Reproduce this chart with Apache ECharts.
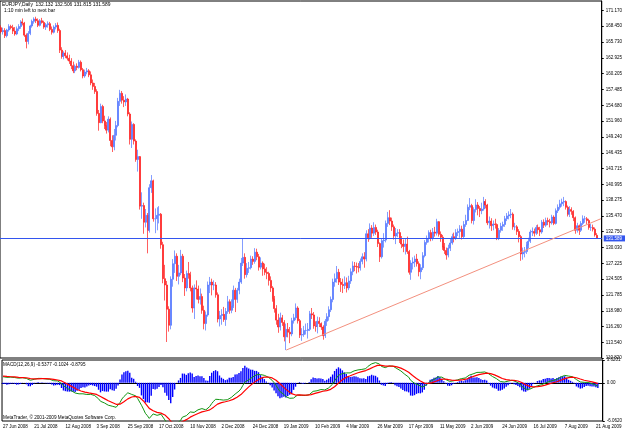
<!DOCTYPE html>
<html>
<head>
<meta charset="utf-8">
<title>EURJPY, Daily</title>
<script src="https://cdn.jsdelivr.net/npm/echarts@6/dist/echarts.min.js"></script>
<style>
  html, body { margin: 0; padding: 0; background: #fff; }
  #chart { width: 625px; height: 431px; }
</style>
</head>
<body>
<div id="chart"></div>
<script>
// daily bars, 27 Jun 2008 .. 1 Sep 2009
const opens = [
  168.2,167.5,167.7,166.8,167.8,168.4,168.2,167.6,167.1,168.0,168.4,169.2,169.0,166.9,165.8,167.2,168.5,169.3,169.7,169.4,
  168.6,169.4,169.1,168.3,168.7,168.9,167.9,167.4,168.3,168.6,167.7,164.3,163.2,163.8,163.3,162.9,162.4,161.6,160.7,161.5,
  161.3,162.2,160.9,159.8,160.5,160.7,
  160.0,158.6,158.0,157.1,153.3,151.7,154.5,152.0,151.2,150.4,152.3,148.6,147.5,149.5,151.2,155.4,156.8,155.6,155.3,155.8,
  153.2,148.8,151.4,148.5,145.3,145.8,137.2,137.3,134.4,135.6,133.0,140.4,141.6,135.0,135.0,135.6,135.8,130.5,124.6,123.5,
  119.3,116.5,124.5,127.2,128.5,
  125.0,125.6,128.5,124.7,123.0,125.5,125.3,123.0,119.5,123.0,122.8,121.0,121.5,119.1,116.8,118.3,123.5,124.0,123.5,123.5,
  121.8,117.6,118.2,118.4,117.5,118.9,120.6,119.1,119.8,122.6,121.0,122.6,124.0,127.3,128.3,125.3,126.4,126.5,128.0,127.6,
  129.2,128.4,126.6,127.3,126.3,125.7,125.5,124.3,123.0,121.1,119.4,117.4,116.2,117.8,117.0,114.5,115.8,115.3,115.0,117.3,
  117.8,119.5,117.3,
  114.8,114.9,115.6,115.6,115.8,118.5,118.3,116.4,116.3,117.2,116.8,116.2,114.7,117.2,118.0,119.2,121.0,124.0,124.6,125.7,
  124.0,123.6,123.4,123.9,123.0,124.2,125.8,126.8,126.7,126.6,126.5,127.6,128.4,128.0,132.4,131.7,133.4,132.5,133.5,132.7,
  130.7,128.4,131.2,131.3,134.2,135.2,134.6,133.6,132.0,132.5,132.6,131.5,130.6,130.2,130.6,129.3,125.7,127.3,127.5,128.0,
  127.2,125.8,126.5,128.6,130.9,
  131.6,132.6,131.6,132.7,132.5,134.5,132.3,131.8,130.1,129.5,128.7,129.9,130.8,131.9,131.6,132.6,132.8,133.2,131.9,134.0,
  134.7,137.0,137.3,134.7,136.6,137.4,136.8,136.4,136.7,138.0,137.4,134.3,134.6,133.8,134.1,134.0,131.7,133.0,133.7,134.0,
  135.0,135.5,135.7,135.8,133.6,133.6,132.8,131.9,128.9,129.2,129.3,130.5,131.1,132.7,132.8,132.5,133.5,133.1,132.7,134.4,
  133.9,134.7,134.5,134.3,135.3,134.2,136.4,137.0,137.6,137.9,138.0,137.0,135.8,136.6,136.3,135.2,133.0,133.8,133.0,134.2,
  135.0,135.0,134.7,133.5,133.5,133.2,132.132
];
const highs = [
  168.6,168.2,168.1,168.0,168.8,168.7,168.7,168.3,168.4,168.8,169.5,169.8,169.2,167.2,167.6,168.7,169.6,170.0,170.1,169.8,
  169.7,169.9,169.4,169.0,169.3,169.2,168.4,168.6,169.0,169.1,168.0,164.8,164.1,164.3,163.9,163.5,162.9,162.3,161.8,162.0,
  162.6,162.5,161.2,160.9,161.2,161.0,
  160.6,159.2,158.6,157.5,153.9,155.0,154.8,152.9,151.8,152.8,152.6,149.5,150.6,152.0,156.0,157.4,157.2,156.3,156.6,156.0,
  153.5,151.9,151.6,148.8,147.0,145.9,139.6,137.8,136.7,136.0,141.0,142.6,141.8,136.8,137.0,137.2,136.0,131.0,127.0,124.2,
  119.8,125.0,128.0,129.5,129.0,
  127.0,129.6,128.9,125.4,126.0,127.5,125.8,123.4,123.6,124.3,123.4,122.9,122.0,119.9,118.9,124.1,124.9,124.6,124.3,124.0,
  122.2,119.0,119.3,119.7,119.5,121.6,121.0,121.0,123.4,123.0,123.0,124.6,128.2,131.5,129.0,127.3,127.5,128.6,128.5,129.9,
  129.8,128.9,128.3,127.6,127.2,126.6,125.8,125.0,123.3,121.6,120.0,118.5,118.7,118.3,117.4,116.8,116.9,116.2,117.8,118.5,
  120.3,119.8,117.6,
  116.0,116.4,116.8,116.9,119.0,119.5,118.8,117.2,118.0,117.9,117.0,116.5,117.6,118.6,119.8,121.5,124.6,125.5,126.8,126.3,
  124.7,124.6,125.0,124.8,125.1,126.4,127.6,127.5,127.4,127.3,128.1,129.0,129.2,133.0,133.2,134.2,133.9,134.4,134.0,133.1,
  130.9,131.6,132.5,134.7,136.2,136.5,135.2,134.0,133.4,133.2,133.2,132.0,131.4,131.5,131.9,129.6,127.8,128.3,128.6,128.9,
  127.6,127.1,129.2,131.3,132.1,
  133.0,133.1,133.4,133.6,135.0,134.6,132.8,132.2,130.8,130.0,130.5,131.6,132.4,132.6,133.2,133.3,133.9,133.8,134.6,135.7,
  137.5,138.6,137.6,137.0,138.4,137.9,137.2,137.8,138.8,138.4,137.6,135.4,135.1,134.7,135.0,134.2,133.4,134.3,134.5,135.5,
  136.0,136.3,136.7,136.1,134.3,133.9,133.2,132.2,130.0,130.1,131.0,131.7,133.1,133.5,133.3,133.9,134.0,133.6,134.8,134.9,
  135.2,135.2,135.0,135.7,135.6,136.8,137.5,138.3,138.5,138.8,138.2,137.3,137.2,137.0,136.5,135.4,134.3,134.0,134.6,135.6,
  135.5,135.3,135.0,134.1,134.0,133.5,132.506
];
const lows = [
  167.2,167.0,166.4,166.5,167.5,167.9,167.1,166.8,166.9,167.6,168.0,168.6,166.6,164.6,165.3,166.9,168.2,168.9,169.0,168.3,
  168.4,168.9,168.0,167.8,168.2,167.6,167.0,167.2,167.9,167.3,163.8,162.8,162.7,162.9,162.5,161.9,161.0,160.3,160.3,160.8,
  161.1,160.6,159.4,159.5,160.1,159.6,
  158.2,157.4,156.7,152.9,150.3,151.6,151.6,150.6,149.8,150.0,147.6,146.6,146.9,148.6,150.9,154.6,155.0,154.4,154.6,152.8,
  147.9,147.3,147.9,144.9,143.2,136.6,135.0,132.4,133.5,129.0,132.6,139.5,134.5,132.5,133.0,134.2,129.8,123.8,120.8,113.6,
  115.4,115.8,123.2,125.6,124.2,
  123.6,125.2,124.0,121.6,122.4,124.6,122.4,118.7,117.6,121.0,120.3,120.1,118.5,115.8,115.6,118.0,122.1,121.7,122.6,121.3,
  117.0,116.3,116.6,117.1,116.4,118.5,118.5,118.6,119.5,118.8,120.4,121.9,123.7,126.8,124.6,124.8,125.6,126.2,127.0,127.2,
  127.8,126.0,126.2,125.1,125.2,124.5,123.4,122.3,120.6,118.7,116.6,115.2,115.6,116.4,113.7,112.2,114.4,113.4,114.6,116.8,
  117.4,116.8,114.3,
  113.8,114.5,114.9,114.2,115.5,117.6,115.9,115.4,115.1,116.2,115.7,114.0,114.3,116.4,117.3,118.8,120.5,123.2,123.9,123.5,
  122.3,122.1,122.8,122.2,122.6,123.7,125.2,125.9,125.5,125.7,126.0,127.1,126.5,127.6,131.0,131.4,131.7,132.0,132.2,130.1,
  127.5,128.1,130.0,130.9,133.6,133.9,132.9,131.4,130.6,131.8,130.8,129.9,129.2,128.8,128.9,125.3,124.4,126.2,126.6,126.7,
  125.0,124.5,126.1,128.3,130.5,
  130.9,131.1,131.2,131.9,132.1,131.9,131.0,129.6,128.9,127.9,128.3,129.4,130.5,130.9,131.3,132.0,131.7,131.4,131.6,133.6,
  134.6,136.5,134.2,134.0,136.1,135.6,135.3,135.8,136.4,136.8,133.9,133.3,132.9,133.0,133.3,131.3,131.3,132.6,132.9,133.6,
  134.6,134.9,135.1,133.1,133.0,132.2,130.9,127.7,127.9,128.3,128.9,129.9,130.8,132.0,131.9,132.2,132.4,132.0,132.4,133.4,
  133.6,133.9,133.5,134.0,133.9,134.0,136.0,136.6,137.1,137.2,136.6,135.4,135.3,135.7,134.6,132.4,132.6,132.2,132.7,133.9,
  134.3,134.1,133.1,132.9,132.8,131.9,131.52
];
const closes = [
  167.5,167.7,166.8,167.8,168.4,168.2,167.6,167.1,168.0,168.4,169.2,169.0,166.9,165.8,167.2,168.5,169.3,169.7,169.4,168.6,
  169.4,169.1,168.3,168.7,168.9,167.9,167.4,168.3,168.6,167.7,164.3,163.2,163.8,163.3,162.9,162.4,161.6,160.7,161.5,161.3,
  162.2,160.9,159.8,160.5,160.7,160.0,
  158.6,158.0,157.1,153.3,151.7,154.5,152.0,151.2,150.4,152.3,148.6,147.5,149.5,151.2,155.4,156.8,155.6,155.3,155.8,153.2,
  148.8,151.4,148.5,145.3,145.8,137.2,137.3,134.4,135.6,133.0,140.4,141.6,135.0,135.0,135.6,135.8,130.5,124.6,123.5,119.3,
  116.5,124.5,127.2,128.5,125.0,
  125.6,128.5,124.7,123.0,125.5,125.3,123.0,119.5,123.0,122.8,121.0,121.5,119.1,116.8,118.3,123.5,124.0,123.5,123.5,121.8,
  117.6,118.2,118.4,117.5,118.9,120.6,119.1,119.8,122.6,121.0,122.6,124.0,127.3,128.3,125.3,126.4,126.5,128.0,127.6,129.2,
  128.4,126.6,127.3,126.3,125.7,125.5,124.3,123.0,121.1,119.4,117.4,116.2,117.8,117.0,114.5,115.8,115.3,115.0,117.3,117.8,
  119.5,117.3,114.8,
  114.9,115.6,115.6,115.8,118.5,118.3,116.4,116.3,117.2,116.8,116.2,114.7,117.2,118.0,119.2,121.0,124.0,124.6,125.7,124.0,
  123.6,123.4,123.9,123.0,124.2,125.8,126.8,126.7,126.6,126.5,127.6,128.4,128.0,132.4,131.7,133.4,132.5,133.5,132.7,130.7,
  128.4,131.2,131.3,134.2,135.2,134.6,133.6,132.0,132.5,132.6,131.5,130.6,130.2,130.6,129.3,125.7,127.3,127.5,128.0,127.2,
  125.8,126.5,128.6,130.9,131.6,
  132.6,131.6,132.7,132.5,134.5,132.3,131.8,130.1,129.5,128.7,129.9,130.8,131.9,131.6,132.6,132.8,133.2,131.9,134.0,134.7,
  137.0,137.3,134.7,136.6,137.4,136.8,136.4,136.7,138.0,137.4,134.3,134.6,133.8,134.1,134.0,131.7,133.0,133.7,134.0,135.0,
  135.5,135.7,135.8,133.6,133.6,132.8,131.9,128.9,129.2,129.3,130.5,131.1,132.7,132.8,132.5,133.5,133.1,132.7,134.4,133.9,
  134.7,134.5,134.3,135.3,134.2,136.4,137.0,137.6,137.9,138.0,137.0,135.8,136.6,136.3,135.2,133.0,133.8,133.0,134.2,135.0,
  135.0,134.7,133.5,133.5,133.2,132.2,131.589
];

// time scale labels, one every 16 bars
const tickLabels = [
  '27 Jun 2008', '21 Jul 2008', '12 Aug 2008', '3 Sep 2008', '25 Sep 2008', '17 Oct 2008',
  '10 Nov 2008', '2 Dec 2008', '24 Dec 2008', '19 Jan 2009', '10 Feb 2009', '4 Mar 2009',
  '26 Mar 2009', '17 Apr 2009', '11 May 2009', '2 Jun 2009', '24 Jun 2009', '16 Jul 2009',
  '7 Aug 2009', '21 Aug 2009'
];
const priceTicks = [
  171.170, 168.450, 165.730, 162.925, 160.205, 157.485, 154.680, 151.960, 149.240, 146.435,
  143.715, 140.995, 138.275, 135.470, 132.750, 130.030, 127.225, 124.505, 121.785, 118.980,
  116.260, 113.540, 110.820
];
const macdTicks = [3.6201, 0, -6.0620];

const bidPrice = 131.589;
const trendLine = [[146, 112.2], [307, 135.0]];
// EMA state just before the first bar (MACD is about +1 at the left edge)
const macdSeed = { fast: 166.9, slow: 165.9, signal: 1.1 };

const headerText = 'EURJPY,Daily  132.132 132.506 131.815 131.589';
const timerText = '1:10 min left to next bar';
const macdText = 'MACD(12,26,9) -0.5377 -0.1024 -0.8795';
const copyText = 'MetaTrader, \u00a9 2001-2009 MetaQuotes Software Corp.';

const FONT = "'Liberation Sans', Arial, sans-serif";
const AXIS_FS = 4.5;
const UP = '#4f73ff';
const DOWN = '#ff1a1a';

function ema(values, period, seed) {
  const k = 2 / (period + 1);
  let prev = seed;
  return values.map(v => (prev = prev + k * (v - prev)));
}

const emaFast = ema(closes, 12, macdSeed.fast);
const emaSlow = ema(closes, 26, macdSeed.slow);
const macdMain = emaFast.map((v, i) => +(v - emaSlow[i]).toFixed(4));
const macdSignal = ema(macdMain, 9, macdSeed.signal).map(v => +v.toFixed(4));
const macdHist = macdMain.map((v, i) => +(2 * (v - macdSignal[i])).toFixed(4));

// two empty slots on the right (chart shift)
const slots = [];
for (let i = 0; i < closes.length + 2; i++) slots.push(i);
const candles = closes.map((c, i) => [opens[i], c, lows[i], highs[i]]);

const showTick = idx => idx % 16 === 0 && idx / 16 < tickLabels.length;

const chart = echarts.init(document.getElementById('chart'));
const option = {
  animation: false,
  backgroundColor: '#fff',
  textStyle: { fontFamily: FONT, fontSize: AXIS_FS, color: '#000' },
  grid: [
    { left: 0, right: 19, top: 1, height: 357, show: true, borderColor: '#000', borderWidth: 1 },
    { left: 0, right: 19, top: 360, height: 61, show: true, borderColor: '#000', borderWidth: 1 }
  ],
  xAxis: [
    {
      type: 'category',
      gridIndex: 0,
      data: slots,
      axisLine: { show: false },
      axisTick: { show: false },
      axisLabel: { show: false },
      splitLine: { show: false }
    },
    {
      type: 'category',
      gridIndex: 1,
      data: slots,
      axisLine: { lineStyle: { color: '#000', width: 1 } },
      axisTick: { interval: showTick, alignWithLabel: true, length: 2, lineStyle: { color: '#000' } },
      axisLabel: {
        interval: showTick,
        formatter: (v, idx) => tickLabels[idx / 16] || '',
        align: 'left',
        margin: 3,
        fontFamily: FONT,
        fontSize: AXIS_FS,
        color: '#000'
      },
      splitLine: { show: false }
    }
  ],
  yAxis: [
    {
      type: 'value',
      gridIndex: 0,
      position: 'right',
      min: 110.82,
      max: 172.83,
      splitLine: { show: false },
      axisLine: { show: true, lineStyle: { color: '#000' } },
      axisTick: { show: true, length: 2, customValues: priceTicks, lineStyle: { color: '#000' } },
      axisLabel: {
        customValues: priceTicks,
        formatter: v => v.toFixed(3),
        margin: 4,
        padding: [0, 0, 4, 0],
        fontFamily: FONT,
        fontSize: AXIS_FS,
        color: '#000'
      }
    },
    {
      type: 'value',
      gridIndex: 1,
      position: 'right',
      min: macdTicks[2],
      max: macdTicks[0],
      splitLine: { show: false },
      axisLine: { show: true, lineStyle: { color: '#000' } },
      axisTick: { show: true, length: 2, customValues: macdTicks, lineStyle: { color: '#000' } },
      axisLabel: {
        customValues: macdTicks,
        formatter: v => (v === 0 ? '0.00' : v.toFixed(4)),
        margin: 4,
        fontFamily: FONT,
        fontSize: AXIS_FS,
        color: '#000'
      }
    }
  ],
  graphic: [
    { type: 'text', left: 2, top: 2, style: { text: headerText, fontFamily: FONT, fontSize: 4.9, fill: '#000' } },
    { type: 'text', left: 4, top: 8, style: { text: timerText, fontFamily: FONT, fontSize: 4.9, fill: '#000' } },
    { type: 'text', left: 3, top: 362, style: { text: macdText, fontFamily: FONT, fontSize: 4.6, fill: '#000' } },
    { type: 'text', left: 3, top: 415, style: { text: copyText, fontFamily: FONT, fontSize: 4.7, fill: '#000' } }
  ],
  series: [
    {
      name: 'EURJPY',
      type: 'candlestick',
      xAxisIndex: 0,
      yAxisIndex: 0,
      data: candles,
      barWidth: 1.5,
      itemStyle: { color: UP, color0: DOWN, borderColor: UP, borderColor0: DOWN, borderWidth: 0.7 },
      markLine: {
        silent: true,
        symbol: ['none', 'none'],
        animation: false,
        data: [
          {
            yAxis: bidPrice,
            lineStyle: { color: '#3355ee', width: 1, type: 'solid' },
            label: {
              show: true,
              position: 'end',
              distance: 2,
              formatter: bidPrice.toFixed(3),
              backgroundColor: '#3355ee',
              color: '#fff',
              padding: [1, 3, 0, 2],
              fontFamily: FONT,
              fontSize: AXIS_FS
            }
          },
          [
            { coord: trendLine[0], lineStyle: { color: '#f3907e', width: 1, type: 'solid' }, label: { show: false } },
            { coord: trendLine[1] }
          ]
        ]
      }
    },
    {
      name: 'OsMA',
      type: 'bar',
      xAxisIndex: 1,
      yAxisIndex: 1,
      data: macdHist,
      barWidth: 1.4,
      itemStyle: { color: '#0000ff' }
    },
    {
      name: 'MACD',
      type: 'line',
      xAxisIndex: 1,
      yAxisIndex: 1,
      data: macdMain,
      showSymbol: false,
      lineStyle: { color: '#129512', width: 1 }
    },
    {
      name: 'Signal',
      type: 'line',
      xAxisIndex: 1,
      yAxisIndex: 1,
      data: macdSignal,
      showSymbol: false,
      lineStyle: { color: '#ff0000', width: 1.2 }
    }
  ]
};
chart.setOption(option);
window.addEventListener('resize', () => chart.resize());
</script>
</body>
</html>
